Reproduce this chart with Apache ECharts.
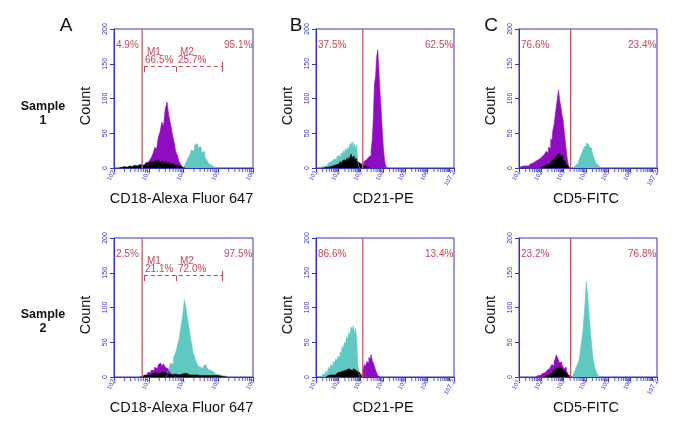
<!DOCTYPE html>
<html>
<head>
<meta charset="utf-8">
<script src="https://cdn.jsdelivr.net/npm/echarts@6/dist/echarts.min.js"></script>
<style>
  html, body { margin: 0; padding: 0; background: #fff; }
  #main { width: 700px; height: 448px; }
  #err { position: absolute; left: 0; top: 425px; font: 9px monospace; white-space: pre-wrap; width: 700px; color: #a00 }
</style>
</head>
<body>
<div id="main"></div>
<div id="err"></div>
<script>
var STEP = 0.05 // histogram bin width, in decades
var BLUE = '#3434c4'
var RED = '#c8465a'
var PURPLE = '#900cc0'
var CYAN = '#5fc9c1'
var FONT = 'Liberation Sans, Arial, sans-serif'

// ---- Sample 1 ----
var a1BlackFrom = 2.2
var a1Black = [1,0,2,1,0,3,2,1,4,3,2,5,4,6,5,8,7,9,10,8,11,9,12,8,10,7,9,6,8,5,6,4,3,4,2,1,0]
var a1PurpleFrom = 2.85
var a1Purple = [3,5,4,8,11,15,21,30,27,44,52,66,60,85,95,76,64,50,38,24,18,9,5,1]
var a1CyanFrom = 4.05
var a1Cyan = [3,8,14,18,26,24,33,35,29,31,22,24,14,11,6,4,2]

var b1CyanFrom = 1.25
var b1Cyan = [1,2,1,3,4,3,6,5,8,7,10,9,13,11,15,14,18,16,22,19,25,21,28,24,30,27,35,32,38,30,36,28,33,10,2]
var b1BlackFrom = 1.3
var b1Black = [1,0,2,1,2,1,3,2,4,3,5,4,6,5,7,6,9,7,10,9,12,10,14,12,16,13,20,15,17,12,14,10,11,8,9,6,5,3,3,2,1,1]
var b1PurpleFrom = 3.1
var b1Purple = [2,6,10,12,14,13,16,18,25,40,70,120,132,160,170,140,110,85,55,30,12,4,1]

var c1PurpleFrom = 1.05
var c1Purple = [1,2,1,3,2,3,4,3,5,4,6,5,7,6,9,8,11,10,13,12,16,15,19,18,24,22,30,28,42,38,55,62,75,88,100,112,98,90,78,70,55,40,25,12,3]
var c1BlackFrom = 2.0
var c1Black = [1,2,2,3,3,4,5,6,5,8,9,12,14,17,15,20,18,21,16,18,12,10,6,4,2,1]
var c1CyanFrom = 3.45
var c1Cyan = [1,2,3,5,7,10,14,18,22,26,30,32,36,34,36,30,28,24,18,14,10,6,4,2,1]

// ---- Sample 2 ----
var a2PurpleFrom = 2.85
var a2Purple = [2,4,3,7,6,10,9,14,12,18,20,15,19,14,12,9,6,3,1]
var a2CyanFrom = 3.55
var a2Cyan = [3,12,20,18,30,35,45,55,72,88,111,98,82,65,50,35,28,20,15,14,12,16,18,13,10,9,7,6,4,4,3,2,1]
var a2BlackFrom = 2.8
var a2Black = [1,2,3,2,4,3,5,4,6,5,7,6,7,5,6,4,5,3,4,3,4,3,5,4,5,4,5,3,4,3,3,2,3,2,3,2,2,3,2,2,3,2,2,1,2,1,1,1,1]

var b2CyanFrom = 1.3
var b2Cyan = [2,5,3,8,6,10,14,11,18,16,22,19,26,24,30,28,36,33,44,40,50,47,58,54,64,60,72,68,74,62,70,55,20,4]
var b2BlackFrom = 1.5
var b2Black = [1,2,1,3,2,3,4,3,5,4,6,5,7,6,8,7,9,8,10,9,12,10,11,9,12,10,11,8,9,6,4,2,1]
var b2PurpleFrom = 3.1
var b2Purple = [5,12,18,15,22,20,28,25,32,24,20,16,10,6,2,1]

var c2CyanFrom = 3.45
var c2Cyan = [2,6,10,15,18,22,30,42,55,68,88,110,137,120,100,80,60,42,28,18,12,7,4,1]
var c2PurpleFrom = 1.8
var c2Purple = [1,2,3,2,4,5,4,6,8,7,10,12,11,15,18,16,22,26,32,28,24,20,22,18,15,12,14,9,6,3,1]
var c2BlackFrom = 2.2
var c2Black = [1,2,3,3,4,5,6,8,9,11,13,12,15,13,14,12,11,9,7,5,3,2,1]

// gates and region labels
var gates = [2.81, 3.10, 3.32, 2.81, 3.10, 3.32]
var leftPct = ['4.9%', '37.5%', '76.6%', '2.5%', '86.6%', '23.2%']
var rightPct = ['95.1%', '62.5%', '23.4%', '97.5%', '13.4%', '76.8%']
var m1Pct = ['66.5%', '21.1%']
var m2Pct = ['25.7%', '72.0%']
var markerX = [2.86, 3.78, 5.11]
var markerY = 146
var axisTitles = ['CD18-Alexa Fluor 647', 'CD21-PE', 'CD5-FITC']
var panelLetters = ['A', 'B', 'C']
var sampleNames = ['Sample\n1', 'Sample\n2']

var cols = [
  { left: 114, width: 139, min: 2, max: 6 },
  { left: 316, width: 138, min: 1, max: 7.2 },
  { left: 519, width: 138, min: 1, max: 7.2 }
]
var rowTops = [29, 238]
var PLOT_H = 139

var hists = [
  [[a1CyanFrom, a1Cyan, CYAN], [a1PurpleFrom, a1Purple, PURPLE], [a1BlackFrom, a1Black, '#000']],
  [[b1CyanFrom, b1Cyan, CYAN], [b1PurpleFrom, b1Purple, PURPLE], [b1BlackFrom, b1Black, '#000']],
  [[c1CyanFrom, c1Cyan, CYAN], [c1PurpleFrom, c1Purple, PURPLE], [c1BlackFrom, c1Black, '#000']],
  [[a2CyanFrom, a2Cyan, CYAN], [a2PurpleFrom, a2Purple, PURPLE], [a2BlackFrom, a2Black, '#000']],
  [[b2CyanFrom, b2Cyan, CYAN], [b2PurpleFrom, b2Purple, PURPLE], [b2BlackFrom, b2Black, '#000']],
  [[c2CyanFrom, c2Cyan, CYAN], [c2PurpleFrom, c2Purple, PURPLE], [c2BlackFrom, c2Black, '#000']]
]

function toBins(from, counts) {
  var d = [[from - STEP, 0]]
  for (var i = 0; i < counts.length; i++) {
    d.push([+(from + i * STEP).toFixed(3), counts[i]])
  }
  d.push([+(from + counts.length * STEP).toFixed(3), 0])
  return d
}

// log minor ticks (2..9 x 10^n), axis decoration only
function minorTicks(min, max) {
  var out = []
  for (var n = Math.floor(min); n < max; n++) {
    for (var k = 2; k <= 9; k++) {
      var v = n + Math.log10(k)
      if (v > min && v < max) out.push([v, 0])
    }
  }
  return out
}

function build(flags) {
  var grid = [], xAxis = [], yAxis = [], series = [], graphic = []
  for (var p = 0; p < 6; p++) {
    var col = cols[p % 3]
    var row = Math.floor(p / 3)
    var top = rowTops[row]
    grid.push({ left: col.left, top: top, width: col.width, height: PLOT_H,
      show: true, borderColor: BLUE, borderWidth: 1 })
    var xa = {
      type: 'value', gridIndex: p, min: col.min, max: col.max, interval: 1,
      axisLine: { lineStyle: { color: BLUE, width: 1 } },
      axisTick: { length: 4, lineStyle: { color: BLUE } },
      splitLine: { show: false },
      axisLabel: { showMinLabel: true, showMaxLabel: true, margin: 3, color: BLUE, fontSize: 7, fontFamily: FONT }
    }
    if (flags.xlab) {
      xa.axisLabel.rotate = 60
      xa.axisLabel.formatter = function (v) {
        if (v === 7) return ''
        return '{a|10}{b|' + v + '}'
      }
      xa.axisLabel.rich = {
        a: { fontSize: 6, color: BLUE, fontFamily: FONT },
        b: { fontSize: 7, color: BLUE, fontFamily: FONT, verticalAlign: 'top' }
      }
    }
    xAxis.push(xa)
    var ya = {
      type: 'value', gridIndex: p, min: 0, max: 200, interval: 50,
      axisLine: { show: true, lineStyle: { color: BLUE, width: 1 } },
      axisTick: { show: true, length: 4, lineStyle: { color: BLUE } },
      splitLine: { show: false },
      axisLabel: { margin: 5, fontSize: 7, color: BLUE, fontFamily: FONT }
    }
    if (flags.ylab) ya.axisLabel.rotate = 90
    yAxis.push(ya)

    hists[p].forEach(function (h) {
      series.push({
        type: 'line', xAxisIndex: p, yAxisIndex: p, step: 'middle',
        symbol: 'none', silent: true,
        lineStyle: { width: 0.6, color: h[2] },
        areaStyle: { color: h[2], opacity: 1 },
        data: toBins(h[0], h[1])
      })
    })

    var gateSeries = {
      type: 'line', xAxisIndex: p, yAxisIndex: p, symbol: 'none', silent: true,
      lineStyle: { color: '#cc5566', width: 1.3 },
      data: [[gates[p], 0], [gates[p], 200]]
    }
    if (flags.marker && p % 3 === 0) {
      gateSeries.markLine = {
        silent: true, symbol: 'none',
        label: { show: false },
        lineStyle: { color: RED, width: 1, type: [4, 3] },
        data: [
          [{ coord: [markerX[0], markerY] }, { coord: [markerX[2], markerY] }],
          [{ coord: [markerX[0], markerY - 8], lineStyle: { type: 'solid' } }, { coord: [markerX[0], markerY] }],
          [{ coord: [markerX[1], markerY - 8], lineStyle: { type: 'solid' } }, { coord: [markerX[1], markerY] }],
          [{ coord: [markerX[2], markerY - 8], lineStyle: { type: 'solid' } }, { coord: [markerX[2], markerY + 7] }]
        ]
      }
    }
    series.push(gateSeries)

    if (flags.minor) {
      series.push({
        type: 'scatter', xAxisIndex: p, yAxisIndex: p, silent: true, clip: false,
        symbol: 'rect', symbolSize: [1, 4], symbolOffset: [0, 2],
        itemStyle: { color: BLUE },
        data: minorTicks(col.min, col.max)
      })
    }

    if (flags.text) {
      graphic.push({ type: 'text', left: col.left + 2, top: top + 11,
        style: { text: leftPct[p], fill: RED, fontSize: 10, fontFamily: FONT } })
      graphic.push({ type: 'text', left: col.left + col.width - 29, top: top + 11,
        style: { text: rightPct[p], fill: RED, fontSize: 10, fontFamily: FONT } })
      if (p % 3 === 0) {
        graphic.push({ type: 'text', left: col.left + 33, top: top + 18,
          style: { text: 'M1', fill: RED, fontSize: 10, fontFamily: FONT } })
        graphic.push({ type: 'text', left: col.left + 31, top: top + 26,
          style: { text: m1Pct[row], fill: RED, fontSize: 10, fontFamily: FONT } })
        graphic.push({ type: 'text', left: col.left + 66, top: top + 18,
          style: { text: 'M2', fill: RED, fontSize: 10, fontFamily: FONT } })
        graphic.push({ type: 'text', left: col.left + 64, top: top + 26,
          style: { text: m2Pct[row], fill: RED, fontSize: 10, fontFamily: FONT } })
      }
      graphic.push({ type: 'text', x: col.left + col.width / 2 - 2, y: top + 170,
        style: { text: axisTitles[p % 3], fill: '#111', fontSize: 14.5, fontFamily: FONT,
          textAlign: 'center', textVerticalAlign: 'middle' } })
      graphic.push({ type: 'text', x: col.left - 28, y: top + 77, rotation: Math.PI / 2,
        style: { text: 'Count', fill: '#111', fontSize: 14.5, fontFamily: FONT,
          textAlign: 'center', textVerticalAlign: 'middle' } })
    }
  }
  if (flags.text) {
    panelLetters.forEach(function (t, i) {
      graphic.push({ type: 'text', x: [66, 296, 491][i], y: 26,
        style: { text: t, fill: '#111', fontSize: 19, fontFamily: FONT,
          textAlign: 'center', textVerticalAlign: 'middle' } })
    })
    sampleNames.forEach(function (t, i) {
      graphic.push({ type: 'text', x: 43, y: [114, 322][i],
        style: { text: t, fill: '#111', fontSize: 12.5, fontWeight: 'bold', fontFamily: FONT,
          textAlign: 'center', textVerticalAlign: 'middle', lineHeight: 14 } })
    })
  }
  return { animation: false, backgroundColor: '#fff', grid: grid, xAxis: xAxis, yAxis: yAxis,
    series: series, graphic: graphic }
}

// add features one at a time, keep those that render
var flags = {}
var bad = []
;['text', 'minor', 'marker', 'ylab', 'xlab'].forEach(function (f) {
  var trial = Object.assign({}, flags)
  trial[f] = true
  try {
    var c = echarts.init(document.createElement('div'), null, { width: 700, height: 448 })
    c.setOption(build(trial))
    c.dispose()
    flags = trial
  } catch (e) {
    bad.push(f + ': ' + e.message)
  }
})
if (bad.length) document.getElementById('err').textContent = bad.join('\n')

var chart = echarts.init(document.getElementById('main'))
chart.setOption(build(flags))
</script>
</body>
</html>
